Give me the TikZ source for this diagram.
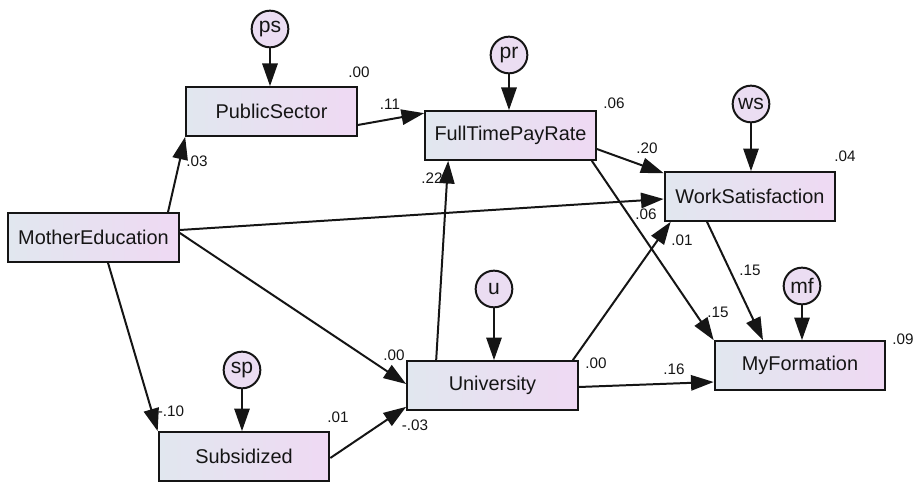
\documentclass[tikz,border=0pt]{standalone}
\usepackage{fontspec}
\setmainfont{Liberation Sans}
\usepackage{tikz}
\usetikzlibrary{arrows.meta,calc}
\definecolor{ink}{HTML}{151515}
\definecolor{boxleft}{HTML}{E1E7EF}
\definecolor{boxright}{HTML}{EFD9F3}
\definecolor{errfill}{HTML}{EBDDF2}

\begin{document}
\begin{tikzpicture}[x=0.03cm,y=-0.03cm,
  obs/.style={draw=ink,line width=1.7pt,left color=boxleft,right color=boxright,
              minimum width=5.12cm,minimum height=1.46cm,inner sep=0pt,
              text=ink,font=\fontsize{17}{20}\selectfont},
  err/.style={circle,draw=ink,line width=1.7pt,fill=errfill,minimum size=1.1cm,
              inner sep=0pt,text=ink,font=\fontsize{18}{20}\selectfont},
  reg/.style={-{Triangle[length=0.68cm,width=0.46cm]},line width=1.7pt,draw=ink},
  est/.style={inner sep=0pt,text=ink,font=\fontsize{13}{15}\selectfont}]
  \useasboundingbox (0,0) rectangle (919,483);
  % observed variables
  \node[obs] (mothered) at (93.5,237.5) {MotherEducation};
  \node[obs] (pubsec)   at (271.5,111.5) {PublicSector};
  \node[obs] (paytime)  at (510.5,135.5) {FullTimePayRate};
  \node[obs] (worksat)  at (750,196.5)   {WorkSatisfaction};
  \node[obs] (univ)     at (492.5,385.5) {University};
  \node[obs] (subsid)   at (244,456.5)   {Subsidized};
  \node[obs] (myform)   at (800,365.5)   {MyFormation};
  % error terms
  \node[err] (ps) at (270,29)  {ps};
  \node[err] (pr) at (509,55)  {pr};
  \node[err] (ws) at (751,104) {ws};
  \node[err] (u)  at (494,289) {u};
  \node[err] (mf) at (802,286) {mf};
  \node[err] (sp) at (242,370) {sp};
  \foreach \e/\o in {ps/pubsec,pr/paytime,ws/worksat,u/univ,mf/myform,sp/subsid}
    \draw[reg] (\e) -- (\e |- \o.north);
  % paths
  \draw[reg] ($(mothered.north)+(74.5,0)$) -- (pubsec.south west);
  \draw[reg] ($(pubsec.east)+(0,13.5)$) -- ($(paytime.north west)+(0,3)$);
  \draw[reg] ($(paytime.east)+(0,13.5)$) -- ($(worksat.north west)+(0,2)$);
  \draw[reg] ($(paytime.south east)+(-5,0)$) -- (myform.north west);
  \draw[reg] ($(mothered.east)+(0,-7.5)$) -- ($(worksat.west)+(0,2.5)$);
  \draw[reg] ($(univ.north east)+(-6,0)$) -- ($(worksat.south west)+(7,0)$);
  \draw[reg] ($(worksat.south)+(-43,0)$) -- ($(myform.north)+(-37,0)$);
  \draw[reg] ($(univ.east)+(0,1.5)$) -- ($(myform.west)+(0,16.5)$);
  \draw[reg] ($(univ.north west)+(30,0)$) -- ($(paytime.south west)+(24,0)$);
  \draw[reg] ($(mothered.east)+(0,-4.5)$) -- ($(univ.west)+(0,-1.5)$);
  \draw[reg] ($(mothered.south)+(14.5,0)$) -- (subsid.north west);
  \draw[reg] ($(subsid.east)+(0,1.5)$) -- ($(univ.south west)+(0,-4)$);
  % estimates
  \node[est] (r2pub)  at (359,72)  {.00};
  \node[est] (r2pay)  at (614,103) {.06};
  \node[est] (r2ws)   at (845,156) {.04};
  \node[est] (r2mf)   at (903,339) {.09};
  \node[est] (r2uni)  at (596,363) {.00};
  \node[est] (r2sub)  at (338,417) {.01};
  \node[est] (b1)  at (197,161) {.03};
  \node[est] (b2)  at (390,104) {.11};
  \node[est] (b3)  at (432,178) {.22};
  \node[est] (b4)  at (647,148) {.20};
  \node[est] (b5)  at (646,214) {.06};
  \node[est] (b6)  at (682,240) {.01};
  \node[est] (b7)  at (750,270) {.15};
  \node[est] (b8)  at (718,312) {.15};
  \node[est] (b9)  at (674,369) {.16};
  \node[est] (b10) at (394,355) {.00};
  \node[est] (b11) at (171,411) {-.10};
  \node[est] (b12) at (415,425) {-.03};
\end{tikzpicture}
\end{document}
